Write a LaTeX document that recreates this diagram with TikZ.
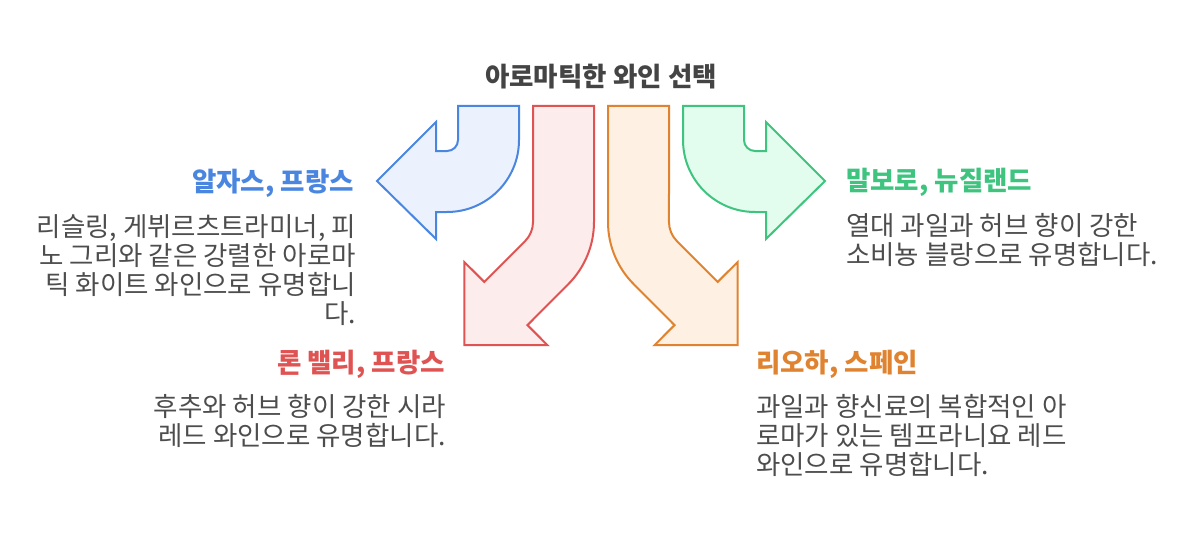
\documentclass[tikz,border=0pt]{standalone}
\usepackage{fontspec}
\setmainfont{Noto Sans CJK KR}
\definecolor{titlegray}{RGB}{68,68,68}
\definecolor{bodygray}{RGB}{77,77,77}
\definecolor{alsaceline}{RGB}{74,134,224}
\definecolor{alsacefill}{RGB}{235,242,253}
\definecolor{rhoneline}{RGB}{224,83,83}
\definecolor{rhonefill}{RGB}{253,236,236}
\definecolor{riojaline}{RGB}{224,131,48}
\definecolor{riojafill}{RGB}{254,241,228}
\definecolor{marlline}{RGB}{62,196,127}
\definecolor{marlfill}{RGB}{226,252,238}
\begin{document}
\begin{tikzpicture}[x=1pt,y=-1pt,
    bendarrow/.style={line width=2pt,line join=miter},
    heading/.style={font=\fontsize{26.5}{29}\selectfont\bfseries,inner sep=0pt},
    bodytext/.style={font=\fontsize{26.5}{29}\selectfont,text=bodygray,inner sep=0pt}]
    \useasboundingbox (0,0) rectangle (1203,543);

    \node[heading,text=titlegray,anchor=base] (title) at (601,87) {아로마틱한 와인 선택};

    \draw[bendarrow,draw=alsaceline,fill=alsacefill]
        (458,106) -- (519,106) -- (519,140)
        arc[start angle=0,end angle=90,radius=72]
        -- (436,212) -- (436,239) -- (377,181) -- (436,122) -- (436,151) -- (447,151)
        arc[start angle=90,end angle=0,radius=11] -- cycle;

    \draw[bendarrow,draw=marlline,fill=marlfill]
        (744,106) -- (683,106) -- (683,140)
        arc[start angle=180,end angle=90,radius=72]
        -- (766,212) -- (766,239) -- (825,181) -- (766,122) -- (766,151) -- (755,151)
        arc[start angle=90,end angle=180,radius=11] -- cycle;

    \draw[bendarrow,draw=rhoneline,fill=rhonefill]
        (533,106) -- (594,106) -- (594,222)
        arc[start angle=0,end angle=45,radius=88]
        -- (527.5,325.1) -- (547.4,345.1) -- (464.3,345.1) -- (464.3,262) -- (484.3,281.9) -- (525.1,241.1)
        arc[start angle=45,end angle=0,radius=27] -- cycle;

    \draw[bendarrow,draw=riojaline,fill=riojafill]
        (669,106) -- (608,106) -- (608,222)
        arc[start angle=180,end angle=135,radius=88]
        -- (674.5,325.1) -- (654.6,345.1) -- (737.7,345.1) -- (737.7,262) -- (717.7,281.9) -- (676.9,241.1)
        arc[start angle=135,end angle=180,radius=27] -- cycle;

    \node[heading,text=alsaceline,anchor=base east] (alsace) at (354,191) {알자스, 프랑스};
    \node[bodytext,anchor=base east,align=right] (alsacetext) at (356,323)
        {리슬링, 게뷔르츠트라미너, 피\\노 그리와 같은 강렬한 아로마\\틱 화이트 와인으로 유명합니\\다.};

    \node[heading,text=rhoneline,anchor=base east] (rhone) at (445,372) {론 밸리, 프랑스};
    \node[bodytext,anchor=base east,align=right] (rhonetext) at (446,445)
        {후추와 허브 향이 강한 시라\\레드 와인으로 유명합니다.};

    \node[heading,text=riojaline,anchor=base west] (rioja) at (756,372) {리오하, 스페인};
    \node[bodytext,anchor=base west,align=left] (riojatext) at (756,474)
        {과일과 향신료의 복합적인 아\\로마가 있는 템프라니요 레드\\와인으로 유명합니다.};

    \node[heading,text=marlline,anchor=base west] (marl) at (846,190) {말보로, 뉴질랜드};
    \node[bodytext,anchor=base west,align=left] (marltext) at (846,264)
        {열대 과일과 허브 향이 강한\\소비뇽 블랑으로 유명합니다.};
\end{tikzpicture}
\end{document}
